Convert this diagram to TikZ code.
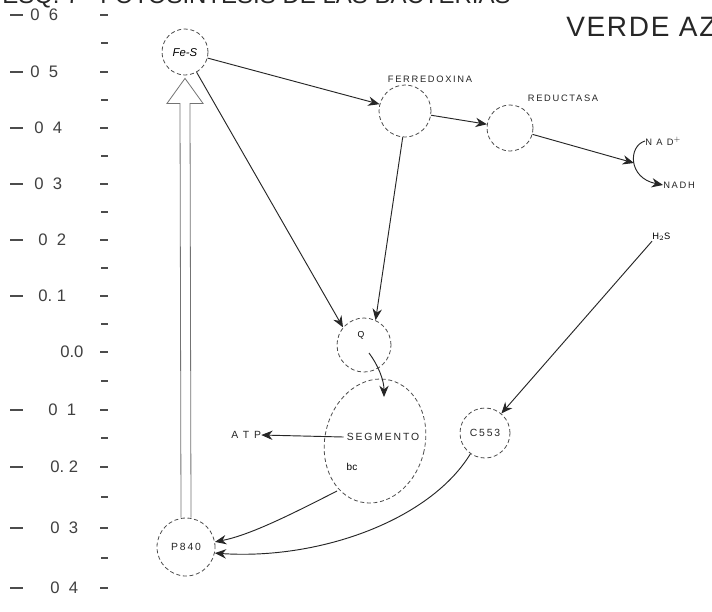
\documentclass[tikz,border=0pt]{standalone}
\usepackage{fontspec}
\setmainfont{Liberation Sans}
\newfontfamily\lettering[LetterSpace=18]{Liberation Sans}
\newfontfamily\wideletters[LetterSpace=6]{Liberation Sans}
\usetikzlibrary{arrows.meta,calc,shapes.geometric}
\begin{document}
\begin{tikzpicture}[x=0.75pt,y=-0.75pt,
  comp/.style={circle,draw=black!70,densely dashed,line width=0.6pt,inner sep=0pt},
  flow/.style={draw=black!85,line width=0.7pt,-{Stealth[length=8.5pt,width=7pt]}},
  tag/.style={font=\lettering\fontsize{7}{8}\selectfont,text=black!85,inner sep=0pt},
  bigtag/.style={font=\lettering\fontsize{7.8}{8}\selectfont,text=black!85,inner sep=0pt},
  axnum/.style={font=\fontsize{12.5}{13}\selectfont,text=black!75,inner sep=0pt,anchor=base west},
  axtick/.style={draw=black!70,line width=0.8pt},
  head/.style={font=\fontsize{18}{18}\selectfont,text=black!85,inner sep=0pt,anchor=base west}]
\useasboundingbox (0,0) rectangle (712,611);
\fill[white] (0,0) rectangle (712,611);

% heading, its upper part running off the page
\node[head] (fig) at (2,3) {ESQ. 7};
\node[head] (title) at (100,3) {FOTOSINTESIS DE LAS BACTERIAS};
\node[head,font=\wideletters\fontsize{21}{21}\selectfont] (sub) at (566,36) {VERDE AZUFRE};

% redox potential scale (volts)
\foreach \y/\d/\num/\nx in {15/1/0\ \ 6/30, 72/1/0\ \ 5/30, 128/1/0\ \ 4/34, 184/1/0\ \ 3/34,
    240/1/0\ \ 2/38, 296/1/0.\ 1/38, 352/0/0.0/60, 410/1/0\ \ 1/48, 467/1/0.\ 2/50,
    528/1/0\ \ 3/50, 588/1/0\ \ 4/50} {
  \node[axnum] at (\nx,\y+5) {\num};
  \ifnum\d=1 \draw[axtick] (10,\y) -- (23,\y); \fi
  \draw[axtick] (100,\y) -- (108,\y);
}
\foreach \y in {43,100,156,212,268,324,381,438,497,558} {
  \draw[axtick] (101,\y) -- (108,\y);
}

% carriers
\node[comp,minimum size=34.5pt] (fes) at (185,52) {};
\node[font=\itshape\fontsize{8.5}{9}\selectfont,inner sep=0pt] (fesl) at (185,53) {Fe-S};
\node[comp,minimum size=39pt] (ferr) at (405,111) {};
\node[tag] (ferrl) at (430,79) {FERREDOXINA};
\node[comp,minimum size=34.5pt] (red) at (510,128) {};
\node[tag] (redl) at (563,98) {REDUCTASA};
\node[comp,minimum size=40.5pt] (q) at (364,345) {};
\node[font=\fontsize{6.5}{7}\selectfont,inner sep=0pt] (ql) at (361,335) {Q};
\node[draw=black!70,densely dashed,line width=0.6pt,ellipse,minimum width=75pt,minimum height=94pt,rotate=-14] (seg) at (375,441) {};
\node[bigtag] (segl) at (383,437) {SEGMENTO};
\node[font=\fontsize{7.5}{8}\selectfont,inner sep=0pt] (bcl) at (352,467) {bc};
\node[comp,minimum size=37.5pt] (c553) at (485,433) {};
\node[bigtag] (c553l) at (485,433) {C553};
\node[comp,minimum size=43.5pt] (p840) at (186,547) {};
\node[bigtag] (p840l) at (186,547) {P840};

\node[bigtag,anchor=west] (atp) at (231,435) {A T P};
\node[tag,anchor=west] (nadp) at (645,141) {N A D$^{+}$};
\node[tag,anchor=west] (nadh) at (663,185) {NADH};
\node[font=\fontsize{7}{7}\selectfont,inner sep=0pt,anchor=west] (h2s) at (652,237) {H$_2$S};

\coordinate (nadbend) at (634,163);
\coordinate (qout) at (369,353);
\coordinate (segin) at (384,397);
\coordinate (segout) at (337,491);

% excitation: P840 to Fe-S (open arrow)
\draw[draw=black!55,line width=0.6pt]
  ($(p840.north)+(-5,0)$) -- ($(fes.south)+(-5,28)$) -- ($(fes.south)+(-18,28)$)
  -- ($(fes.south)+(0,3)$) -- ($(fes.south)+(18,28)$) -- ($(fes.south)+(5,28)$)
  -- ($(p840.north)+(5,0)$);

% electron transfers
\draw[flow] (fes) -- (ferr);
\draw[flow] (ferr) -- (red);
\draw[flow] (red) -- (nadbend);
\draw[flow] (nadp.west) .. controls (628,146) and (628,178) .. (nadh.west);
\draw[flow] (fes) -- (q.140);
\draw[flow] (ferr.265) -- (q.65);
\draw[flow] (qout) .. controls (378,365) and (384,380) .. (segin);
\draw[flow] ($(segl.west)+(-3,0)$) -- (atp.east);
\draw[flow] (h2s.south west) -- (c553.50);
\draw[flow] (segout) .. controls (290,515) and (250,535) .. (p840.10);
\draw[flow] (c553.235) .. controls (430,520) and (320,560) .. (p840.-12);
\end{tikzpicture}
\end{document}
